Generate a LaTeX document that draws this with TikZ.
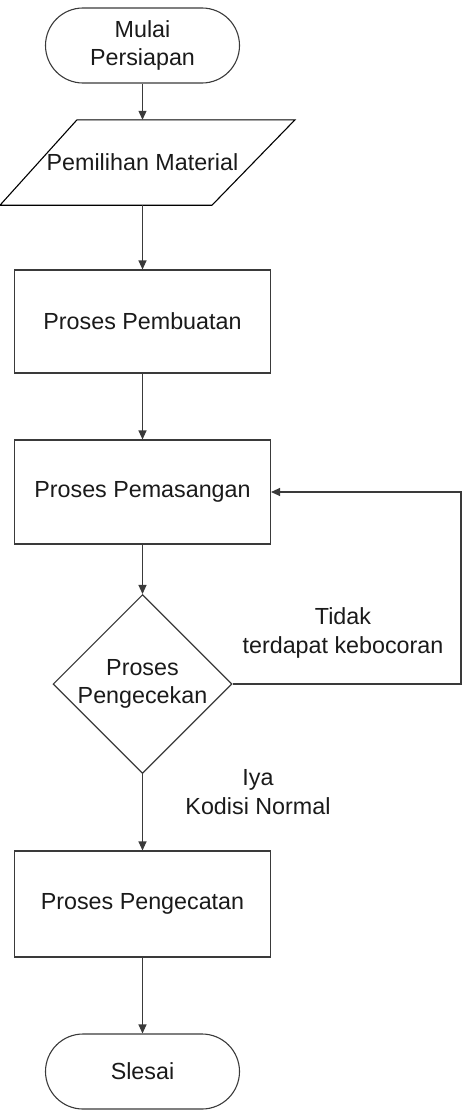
\documentclass[tikz,border=0pt]{standalone}
\usepackage{fontspec}
\setmainfont{Liberation Sans}
\usetikzlibrary{shapes.geometric,arrows.meta}
\definecolor{stroke}{HTML}{3A3A3A}
\definecolor{ink}{HTML}{1A1A1A}
\begin{document}
\begin{tikzpicture}[x=1pt,y=-1pt,
  every node/.style={font=\fontsize{23.3}{28.5}\selectfont, text=ink, align=center, inner sep=0pt},
  terminal/.style={draw=stroke, line width=1.1pt, minimum width=194pt, minimum height=75pt, rounded corners=37.5pt},
  procbox/.style={draw=stroke, line width=1.1pt, minimum width=256pt, minimum height=104pt},
  decision/.style={draw=stroke, line width=1.1pt, diamond, minimum width=177pt, minimum height=178pt, shape aspect=1},
  flow/.style={draw=stroke, line width=1.1pt, -{Triangle[length=9pt,width=8pt]}},
  lbl/.style={font=\fontsize{23.3}{28.5}\selectfont}]
\useasboundingbox (0,0) rectangle (467,1116);

% start / end terminals
\node[terminal] (start) at (142.5,45.5) {Mulai\\Persiapan};
\node[terminal] (stop) at (142.5,1071.5) {Slesai};

% input parallelogram: anchor node plus its outline
\node[minimum width=200pt, minimum height=85pt] (input) at (142.5,162.5) {Pemilihan Material};
\draw[stroke, line width=1.1pt]
  ([xshift=-142.5pt]input.south) -- ([xshift=69.5pt]input.south)
  -- ([xshift=152.5pt]input.north) -- ([xshift=-65.5pt]input.north) -- cycle;

% process steps
\node[procbox, minimum height=103pt] (make) at (142.5,321.5) {Proses Pembuatan};
\node[procbox] (mount) at (142.5,492) {Proses Pemasangan};
\node[decision] (check) at (142.5,684) {Proses\\Pengecekan};
\node[procbox, minimum height=106pt] (paint) at (142.5,904) {Proses Pengecatan};

% main flow
\draw[flow] (start) -- (input);
\draw[flow] (input) -- (make);
\draw[flow] (make) -- (mount);
\draw[flow] (mount) -- (check);
\draw[flow] (check) -- (paint);
\draw[flow] (paint) -- (stop);

% loop back when a leak is found
\coordinate (loopB) at (461,684);
\coordinate (loopT) at (461,492);
\draw[flow] (check.east) -- (loopB) -- (loopT) -- (mount.east);

% branch labels
\node[lbl] (nolbl) at (343,633) {Tidak\\terdapat kebocoran};
\node[lbl] (yeslbl) at (258,792) {Iya\\Kodisi Normal};
\end{tikzpicture}
\end{document}
